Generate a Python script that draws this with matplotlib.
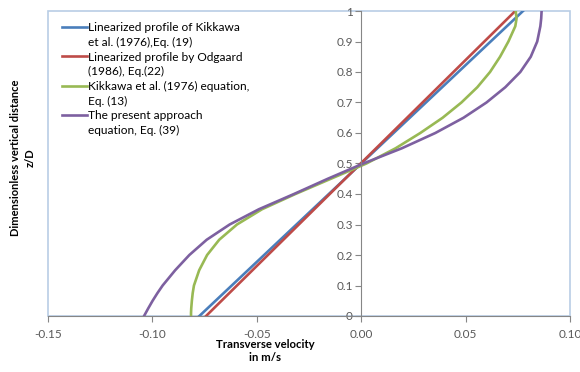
import numpy as np
import matplotlib
matplotlib.use('Agg')
import matplotlib.pyplot as plt
from matplotlib.lines import Line2D
from matplotlib.ticker import FuncFormatter, MultipleLocator

plt.rcParams['font.family'] = ['Lato', 'DejaVu Sans']

# z/D levels
z_levels = [0.0, 0.01, 0.025, 0.05, 0.075, 0.1, 0.15, 0.2, 0.25, 0.3, 0.35,
            0.4, 0.45, 0.5, 0.55, 0.6, 0.65, 0.7, 0.75, 0.8, 0.85, 0.9,
            0.95, 0.975, 1.0]

# linearized profiles (straight lines, end points)
z_lin = [0.0, 1.0]
u_kikkawa_lin = [-0.0775, 0.0775]
u_odgaard_lin = [-0.0743, 0.0738]

# Kikkawa et al. (1976) equation
u_kikkawa = [-0.0815, -0.0815, -0.0814, -0.0811, -0.0807, -0.0801, -0.0776,
             -0.0738, -0.0680, -0.0595, -0.0475, -0.0315, -0.0145, 0.0025,
             0.0165, 0.0283, 0.0390, 0.0480, 0.0556, 0.0617, 0.0665, 0.0705,
             0.0738, 0.0744, 0.0740]

# present approach, Eq. (39)
u_present = [-0.1040, -0.1032, -0.1020, -0.0999, -0.0976, -0.0951, -0.0891,
             -0.0823, -0.0740, -0.0630, -0.0490, -0.0322, -0.0160, 0.0010,
             0.0195, 0.0355, 0.0490, 0.0600, 0.0690, 0.0762, 0.0812, 0.0843,
             0.0858, 0.0862, 0.0864]

labels = [
    ['Linearized profile of Kikkawa', 'et al. (1976),Eq. (19)'],
    ['Linearized profile by Odgaard', '(1986), Eq.(22)'],
    ['Kikkawa et al. (1976) equation,', 'Eq. (13)'],
    ['The present approach', 'equation, Eq. (39)'],
]
colors = ['#4A7EBB', '#BE4B48', '#98B954', '#7D60A0']
grey = '#595959'

fig = plt.figure(figsize=(5.8, 3.72), dpi=100)
ax = fig.add_axes([48 / 580, 56 / 372, 522 / 580, 305 / 372])

l1, = ax.plot(u_kikkawa_lin, z_lin, color=colors[0], lw=1.9)
l2, = ax.plot(u_odgaard_lin, z_lin, color=colors[1], lw=1.9)
l3, = ax.plot(u_kikkawa, z_levels, color=colors[2], lw=1.9)
l4, = ax.plot(u_present, z_levels, color=colors[3], lw=1.9)

ax.set_xlim(-0.15, 0.10)
ax.set_ylim(0, 1)

# frame of the plot area
ax.patch.set_edgecolor('#B9CDE5')
ax.patch.set_linewidth(1.2)
for s in ['top', 'right']:
    ax.spines[s].set_visible(False)
ax.spines['left'].set_position(('data', 0))
ax.spines['left'].set_color('#868686')
ax.spines['bottom'].set_color('#868686')

ax.xaxis.set_major_locator(MultipleLocator(0.05))
ax.yaxis.set_major_locator(MultipleLocator(0.1))
ax.xaxis.set_major_formatter(FuncFormatter(lambda v, p: f'{v:.2f}'))
ax.yaxis.set_major_formatter(FuncFormatter(lambda v, p: f'{v:.1f}'.rstrip('0').rstrip('.') if v != 0 else '0'))
ax.tick_params(axis='both', direction='out', length=4, color='#868686',
               labelsize=8.5, labelcolor=grey)
ax.tick_params(axis='x', pad=5)
ax.tick_params(axis='y', pad=2)

fig.text(265 / 580, 1 - 351 / 372, 'Transverse velocity\nin m/s', ha='center',
         va='center', fontsize=8.2, fontweight='bold', linespacing=1.3)
fig.text(23 / 580, 1 - 158 / 372, 'Dimensionless vertical distance\nz/D',
         ha='center', va='center', rotation=90, fontsize=8,
         fontweight='bold', linespacing=1.45)

blank = Line2D([], [], color='none')
handles = [l1, blank, l2, blank, l3, blank, l4, blank]
leg_labels = [t for pair in labels for t in pair]
ax.legend(handles, leg_labels, loc='upper left', bbox_to_anchor=(0.01, 0.99),
          frameon=False, fontsize=8.6, handlelength=2.1, handletextpad=0.15,
          labelspacing=0.3, borderaxespad=0.3)

fig.savefig('out.png', dpi=100)
